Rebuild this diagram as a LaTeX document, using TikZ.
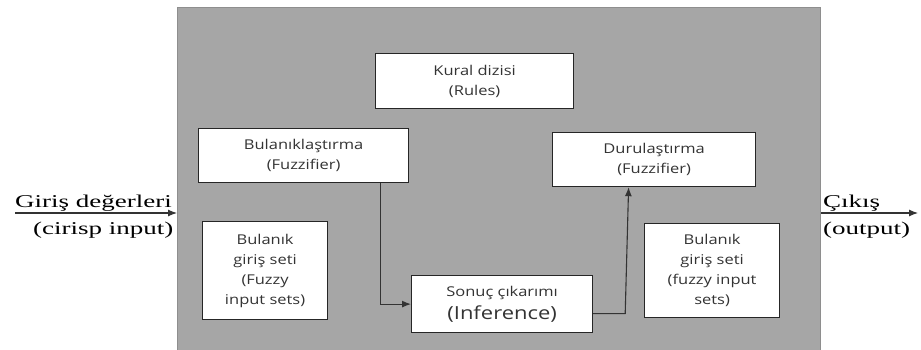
\documentclass[tikz,border=0pt]{standalone}
\usepackage{fontspec}
\setmainfont[FakeStretch=1.22]{Open Sans}
\newfontfamily\serifface[FakeStretch=1.5]{Liberation Serif}
\usetikzlibrary{arrows.meta,calc}
\definecolor{panel}{HTML}{A6A6A6}
\definecolor{panelline}{HTML}{8E8E8E}
\tikzset{
  blk/.style={draw=black!85, line width=1.2pt, fill=white, anchor=north west, align=center, inner sep=0pt,
    font=\fontsize{13.5}{20}\selectfont, text=black!80},
  arr/.style={line width=1.1pt, draw=black!80, -{Latex[length=9pt,width=7pt]}},
  lbl/.style={inner sep=0pt, font=\serifface\fontsize{18}{20}\selectfont, anchor=base west}
}
\begin{document}
\begin{tikzpicture}[x=1pt,y=-1pt]
\useasboundingbox (0,0) rectangle (921,350);
\node[draw=panelline, fill=panel, line width=1pt, anchor=north west, minimum width=643pt, minimum height=346pt, inner sep=0pt] (sys) at (177,7) {};
\node[blk, minimum width=198pt, minimum height=55pt] (rules) at (375,53) {Kural dizisi\\(Rules)};
\node[blk, minimum width=210pt, minimum height=54pt] (fuz) at (198,128) {Bulanıklaştırma\\(Fuzzifier)};
\node[blk, minimum width=203pt, minimum height=54pt] (dfz) at (552,132) {Durulaştırma\\(Fuzzifier)};
\node[blk, minimum width=125pt, minimum height=98pt] (fin) at (202,221) {Bulanık\\giriş seti\\(Fuzzy\\input sets)};
\node[blk, minimum width=181pt, minimum height=57pt] (inf) at (411,275) {Sonuç çıkarımı\\[3pt]{\fontsize{18}{20}\selectfont(Inference)}};
\node[blk, minimum width=135pt, minimum height=94pt] (fout) at (644,223) {Bulanık\\giriş seti\\(fuzzy input\\sets)};
\draw[arr] ([xshift=-29pt]fuz.south east) |- (inf.west);
\draw[arr] ([yshift=-9.5pt]inf.east) -- ++(32pt,0) -- ([xshift=-25.5pt]dfz.south);
\coordinate (inS) at (15,213);
\coordinate (outE) at (918,213);
\draw[arr] (inS) -- (inS -| sys.west);
\draw[arr] (sys.east |- outE) -- (outE);
\node[lbl] (inA) at (15,207) {Giriş değerleri};
\node[lbl] (inB) at (33,234) {(cirisp input)};
\node[lbl] (outA) at (823,207) {Çıkış};
\node[lbl] (outB) at (823,234) {(output)};
\end{tikzpicture}
\end{document}
